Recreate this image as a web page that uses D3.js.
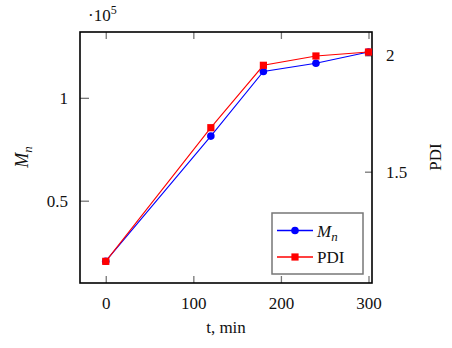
<!DOCTYPE html>
<html>
<head>
<meta charset="utf-8">
<script src="https://cdn.jsdelivr.net/npm/d3@7"></script>
<style>
  body { margin: 0; background: #fff; }
  #chart text { font-family: 'Liberation Serif', 'Times New Roman', serif; }
</style>
</head>
<body>
<svg id="chart" width="452" height="348"></svg>
<script>
// data
const times = [0, 120, 180, 240, 300];
const mnValues = [0.206, 0.814, 1.128, 1.168, 1.223];   // x 10^5
const pdiValues = [1.115, 1.689, 1.957, 1.997, 2.014];
const xTicks = [0, 100, 200, 300];
const leftTicks = [0.5, 1];
const rightTicks = [1.5, 2];

const FONT = "Liberation Serif";

const width = 452, height = 348;
const margin = {top: 32, right: 80, bottom: 65, left: 80};

const svg = d3.select('#chart');

const chart_width = width - margin.left - margin.right;
const chart_height = height - margin.top - margin.bottom;

const chart = svg.append('g')
  .attr('transform', `translate(${margin.left}, ${margin.top})`);

const x_scale = d3.scaleLinear().domain([-29.4, 304]).range([0, chart_width]);
const yl_scale = d3.scaleLinear().domain([0.1, 1.32]).range([chart_height, 0]);
const yr_scale = d3.scaleLinear().domain([1.022, 2.1]).range([chart_height, 0]);

const tickColor = '#777';

// axes with inward ticks
const xaxis = d3.axisBottom(x_scale).tickValues(xTicks).tickSize(-7).tickPadding(14);
const xaxis_top = d3.axisTop(x_scale).tickValues(xTicks).tickSize(-7).tickFormat('');
const yaxis_left = d3.axisLeft(yl_scale).tickValues(leftTicks).tickSize(-9).tickPadding(12)
  .tickFormat(d3.format('~g'));
const yaxis_right = d3.axisRight(yr_scale).tickValues(rightTicks).tickSize(-7).tickPadding(14)
  .tickFormat(d3.format('~g'));

function styleAxis(g) {
  g.attr('font-family', FONT).attr('font-size', 17);
  g.select('.domain').remove();
  g.selectAll('.tick line').attr('stroke', tickColor).attr('stroke-width', 1.3);
  g.selectAll('.tick text')
    .attr('font-family', FONT)
    .attr('font-size', 17)
    .attr('fill', '#111');
}

chart.append('g').attr('transform', `translate(0, ${chart_height})`).call(xaxis).call(styleAxis);
chart.append('g').call(xaxis_top).call(styleAxis);
chart.append('g').call(yaxis_left).call(styleAxis);
chart.append('g').attr('transform', `translate(${chart_width}, 0)`).call(yaxis_right).call(styleAxis);

// frame
chart.append('rect')
  .attr('x', 0).attr('y', 0)
  .attr('width', chart_width).attr('height', chart_height)
  .attr('fill', 'none').attr('stroke', '#000').attr('stroke-width', 1.6);

// series
const mnData = times.map((t, i) => ({t: t, v: mnValues[i]}));
const pdiData = times.map((t, i) => ({t: t, v: pdiValues[i]}));

const mnLine = d3.line().x(d => x_scale(d.t)).y(d => yl_scale(d.v));
const pdiLine = d3.line().x(d => x_scale(d.t)).y(d => yr_scale(d.v));

chart.append('path').datum(mnData)
  .attr('d', mnLine).attr('fill', 'none').attr('stroke', '#0000ff').attr('stroke-width', 1.1);
chart.selectAll('.mn-pt').data(mnData).enter().append('circle')
  .attr('cx', d => x_scale(d.t)).attr('cy', d => yl_scale(d.v))
  .attr('r', 3.8).attr('fill', '#0000ff');

chart.append('path').datum(pdiData)
  .attr('d', pdiLine).attr('fill', 'none').attr('stroke', '#ff0000').attr('stroke-width', 1.1);
chart.selectAll('.pdi-pt').data(pdiData).enter().append('rect')
  .attr('x', d => x_scale(d.t) - 3.6).attr('y', d => yr_scale(d.v) - 3.6)
  .attr('width', 7.2).attr('height', 7.2).attr('fill', '#ff0000');

// axis labels
function label(sel) {
  return sel.attr('font-family', FONT).attr('fill', '#111');
}

svg.append('text').call(label)
  .attr('x', 88).attr('y', 21)
  .attr('font-size', 17)
  .html('·10<tspan dy="-7" font-size="12">5</tspan>');

svg.append('text').call(label)
  .attr('transform', 'translate(28, 157) rotate(-90)')
  .attr('text-anchor', 'middle')
  .attr('font-size', 18)
  .attr('font-style', 'italic')
  .html('M<tspan dy="4" font-size="13">n</tspan>');

svg.append('text').call(label)
  .attr('transform', 'translate(441, 157) rotate(-90)')
  .attr('text-anchor', 'middle')
  .attr('font-size', 17)
  .text('PDI');

svg.append('text').call(label)
  .attr('x', margin.left + chart_width / 2).attr('y', 333)
  .attr('text-anchor', 'middle')
  .attr('font-size', 17)
  .text('t, min');

// legend
const legend = svg.append('g').attr('transform', 'translate(272, 213)');
legend.append('rect')
  .attr('width', 91).attr('height', 61)
  .attr('fill', '#fff').attr('stroke', '#777').attr('stroke-width', 1.5);

const legendItems = [
  {name: 'Mn', color: '#0000ff', shape: 'circle'},
  {name: 'PDI', color: '#ff0000', shape: 'square'}
];

legendItems.forEach((item, i) => {
  const y = 17.5 + i * 26.5;
  legend.append('line')
    .attr('x1', 5).attr('x2', 41).attr('y1', y).attr('y2', y)
    .attr('stroke', item.color).attr('stroke-width', 1.3);
  if (item.shape === 'circle') {
    legend.append('circle').attr('cx', 23).attr('cy', y).attr('r', 3.8).attr('fill', item.color);
  } else {
    legend.append('rect').attr('x', 19.4).attr('y', y - 3.6)
      .attr('width', 7.2).attr('height', 7.2).attr('fill', item.color);
  }
  const t = legend.append('text').call(label)
    .attr('x', 45).attr('y', y + 6)
    .attr('font-size', 17);
  if (item.name === 'Mn') {
    t.attr('font-style', 'italic')
      .html('M<tspan dy="4" font-size="13">n</tspan>');
  } else {
    t.text(item.name);
  }
});
</script>
</body>
</html>
